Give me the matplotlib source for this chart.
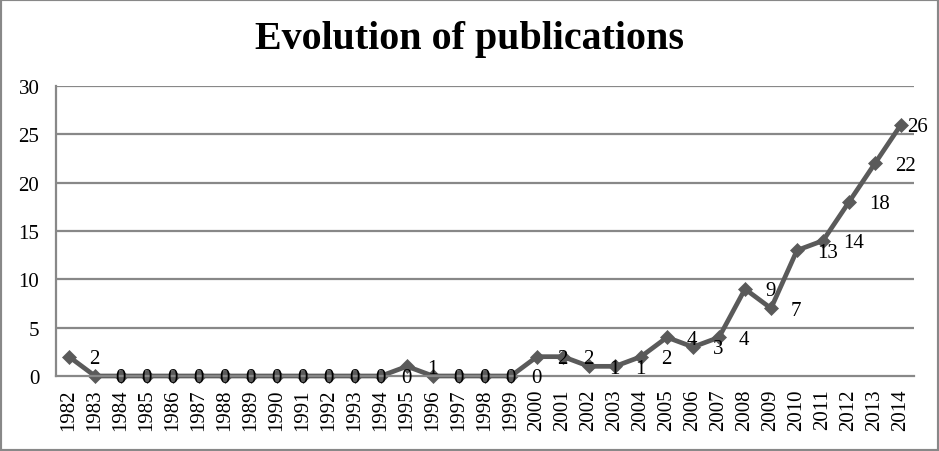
import matplotlib
matplotlib.use("Agg")
import matplotlib.pyplot as plt
from matplotlib.patches import Rectangle

years = list(range(1982, 2015))
publications = [2, 0, 0, 0, 0, 0, 0, 0, 0, 0, 0, 0, 0, 1, 0, 0, 0, 0,
                2, 2, 1, 1, 2, 4, 3, 4, 9, 7, 13, 14, 18, 22, 26]
title = "Evolution of publications"
yticks = [0, 5, 10, 15, 20, 25, 30]

DPI = 100
fig = plt.figure(figsize=(9.39, 4.52), dpi=DPI)
ax = fig.add_axes([56 / 939, 1 - 377 / 452, (914 - 56) / 939, (377 - 87) / 452])

serif = "Liberation Serif"
line_col = "#5a5a5a"
grid_col = "#888888"

x = list(range(len(years)))
ax.plot(x, publications, color=line_col, lw=3.4, marker="D", ms=6.8,
        mfc=line_col, mec=line_col, mew=0.5, zorder=2, clip_on=False)

for i, v in enumerate(publications):
    dx = 14.4 if i < len(publications) - 1 else 4.5
    ax.annotate(str(v), (x[i], v), xytext=(dx, -1.3), textcoords="offset points",
                ha="left", va="center", fontsize=15, family=serif,
                color="black", zorder=3, annotation_clip=False)

ax.set_xlim(-0.5, len(years) - 0.5)
ax.set_ylim(0, 30)
ax.set_yticks(yticks)
ax.set_yticklabels([str(t) for t in yticks], fontsize=15, family=serif)
ax.set_xticks(x)
ax.set_xticklabels([str(y) for y in years], rotation=90, fontsize=15, family=serif)
ax.tick_params(axis="both", length=0)
ax.tick_params(axis="y", pad=12)
ax.tick_params(axis="x", pad=9)

for yv in yticks[1:]:
    ax.axhline(yv, color=grid_col, lw=1.6, zorder=1)

for side in ["top", "right"]:
    ax.spines[side].set_visible(False)
for side in ["left", "bottom"]:
    ax.spines[side].set_color(grid_col)
    ax.spines[side].set_linewidth(1.6)

fig.text(0.5, 1 - 49.3 / 452, title, ha="center", va="baseline",
         fontsize=28.8, fontweight="bold", family=serif)

fig.add_artist(Rectangle((0, 0), 1, 1, transform=fig.transFigure, fill=False,
                         ec=grid_col, lw=3.0, zorder=10))

fig.savefig("out.png", dpi=DPI)
